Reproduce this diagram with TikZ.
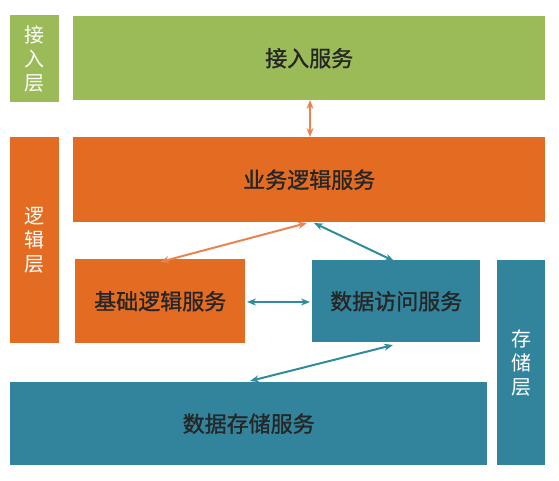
\documentclass[tikz,border=0pt]{standalone}
\usepackage{fontspec}
\newfontfamily\cjk[FakeBold=1.2]{Noto Sans CJK SC}
\newfontfamily\cjkl{Noto Sans CJK SC}
\usetikzlibrary{arrows.meta,calc}
\definecolor{gr}{HTML}{9BBB59}
\definecolor{orb}{HTML}{E46C22}
\definecolor{tl}{HTML}{31849B}
\definecolor{ora}{HTML}{E8844E}
\definecolor{tla}{HTML}{2F8C9C}
\begin{document}
\begin{tikzpicture}[x=1pt,y=-1pt,
  box/.style={draw=none,inner sep=0pt,anchor=north west,font=\cjk\fontsize{22}{26}\selectfont,text=black!85},
  layer/.style={box,text=white,align=center,font=\cjkl\fontsize{20}{24}\selectfont},
  dbl/.style={{Stealth[length=9pt,width=7pt]}-{Stealth[length=9pt,width=7pt]},line width=2pt}]
\useasboundingbox (0,0) rectangle (559,481);
\node[layer,fill=gr,minimum width=49pt,minimum height=87pt] (l1) at (10,15) {接\\入\\层};
\node[box,fill=gr,minimum width=472pt,minimum height=84pt] (jr) at (73,16) {接入服务};
\node[layer,fill=orb,minimum width=49pt,minimum height=206pt] (l2) at (10,137) {逻\\辑\\层};
\node[box,fill=orb,minimum width=472pt,minimum height=85pt] (yw) at (73,137) {业务逻辑服务};
\node[box,fill=orb,minimum width=170pt,minimum height=84pt] (jc) at (75,259) {基础逻辑服务};
\node[box,fill=tl,minimum width=168pt,minimum height=82pt] (fw) at (312,260) {数据访问服务};
\node[layer,fill=tl,minimum width=48pt,minimum height=205pt] (l3) at (497,260) {存\\储\\层};
\node[box,fill=tl,minimum width=477pt,minimum height=83pt] (cc) at (10,382) {数据存储服务};
\coordinate (a1) at (310,100);
\coordinate (a2) at (310,137);
\coordinate (b1) at (160,262);
\coordinate (b2) at (307,223);
\coordinate (c1) at (314,223);
\coordinate (c2) at (394,261);
\coordinate (d1) at (247,302);
\coordinate (d2) at (310,302);
\coordinate (e1) at (250,381);
\coordinate (e2) at (393,345);
\draw[dbl,ora] (a1) -- (a2);
\draw[dbl,ora] (b1) -- (b2);
\draw[dbl,tla] (c1) -- (c2);
\draw[dbl,tla] (d1) -- (d2);
\draw[dbl,tla] (e1) -- (e2);
\end{tikzpicture}
\end{document}
